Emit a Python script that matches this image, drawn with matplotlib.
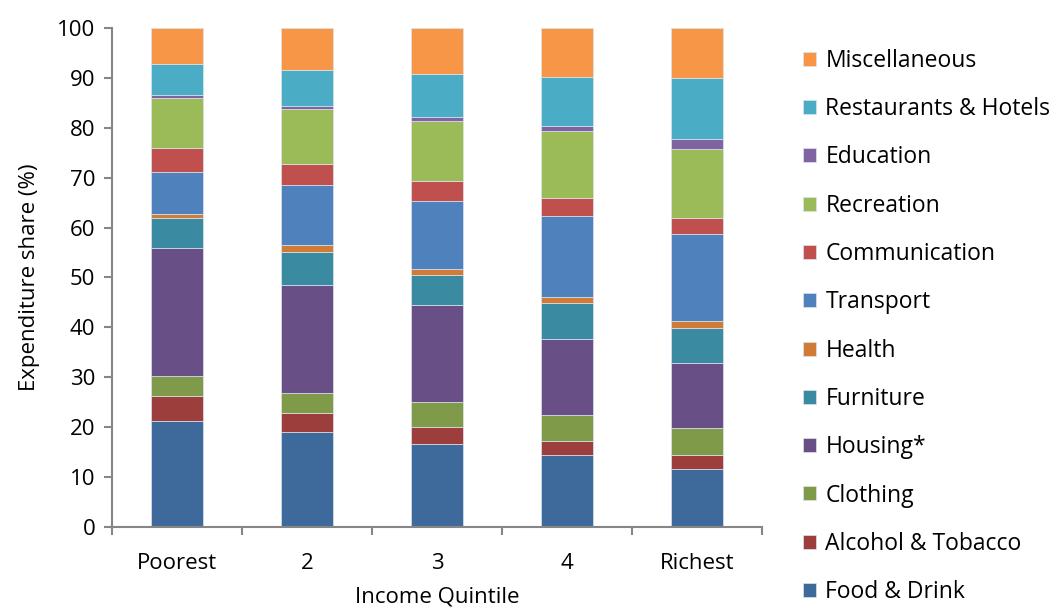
import matplotlib
matplotlib.use("Agg")
import matplotlib.pyplot as plt
import numpy as np

plt.rcParams['font.family'] = ['Open Sans', 'DejaVu Sans']

quintiles = ["Poorest", "2", "3", "4", "Richest"]

categories = ["Food & Drink", "Alcohol & Tobacco", "Clothing", "Housing*", "Furniture",
              "Health", "Transport", "Communication", "Recreation", "Education",
              "Restaurants & Hotels", "Miscellaneous"]

food = [21.3, 19.1, 16.6, 14.4, 11.7]
alcohol = [5.0, 3.7, 3.4, 2.9, 2.7]
clothing = [4.0, 4.1, 5.1, 5.2, 5.5]
housing = [25.7, 21.6, 19.4, 15.2, 12.9]
furniture = [5.9, 6.6, 6.0, 7.1, 7.0]
health = [0.8, 1.5, 1.2, 1.2, 1.4]
transport = [8.5, 12.0, 13.7, 16.3, 17.6]
communication = [4.7, 4.2, 4.0, 3.6, 3.1]
recreation = [10.0, 10.9, 11.9, 13.4, 13.9]
education = [0.7, 0.6, 0.9, 1.0, 1.9]
restaurants = [6.2, 7.2, 8.6, 9.8, 12.3]
misc = [7.2, 8.5, 9.2, 9.9, 10.0]

series = [food, alcohol, clothing, housing, furniture, health,
          transport, communication, recreation, education, restaurants, misc]
colors = ["#3E6A9B", "#9C3E3C", "#7F9A48", "#684F86", "#3A8AA2", "#D07B36",
          "#4F81BD", "#C0504D", "#9BBB59", "#8064A2", "#4BACC6", "#F79646"]

fig = plt.figure(figsize=(10.56, 6.11), dpi=100)
ax = fig.add_axes([0.106, 0.1375, 0.616, 0.8167])

x = np.arange(len(quintiles))
bottom = np.zeros(len(quintiles))
handles = []
for vals, col, name in zip(series, colors, categories):
    b = ax.bar(x, vals, 0.4, bottom=bottom, color=col, edgecolor='#dde4ee',
               linewidth=0.5, label=name)
    handles.append(b)
    bottom += np.array(vals)

ax.set_xlim(-0.5, 4.5)
ax.set_ylim(0, 100)
ax.set_yticks(range(0, 101, 10))
ax.set_xticks(x)
ax.set_xticklabels(quintiles)
ax.set_xticks(np.arange(-0.5, 5, 1), minor=True)
ax.tick_params(axis='x', which='major', length=0, pad=19, labelsize=16)
ax.tick_params(axis='x', which='minor', length=6, width=1.5, color='#868686', direction='out')
ax.tick_params(axis='y', length=6, width=1.5, color='#868686', labelsize=16, pad=6)

for s in ['top', 'right']:
    ax.spines[s].set_visible(False)
for s in ['left', 'bottom']:
    ax.spines[s].set_color('#868686')
    ax.spines[s].set_linewidth(1.5)

ax.set_ylabel("Expenditure share (%)", fontsize=16, labelpad=12)
ax.set_xlabel("Income Quintile", fontsize=16, labelpad=9)

fig.legend(handles[::-1], categories[::-1], loc='upper left',
           bbox_to_anchor=(0.752, 0.935), frameon=False, fontsize=16.5,
           handlelength=0.56, handleheight=0.56, handletextpad=0.4,
           labelspacing=1.06, borderaxespad=0)

fig.savefig("out.png", dpi=100)
